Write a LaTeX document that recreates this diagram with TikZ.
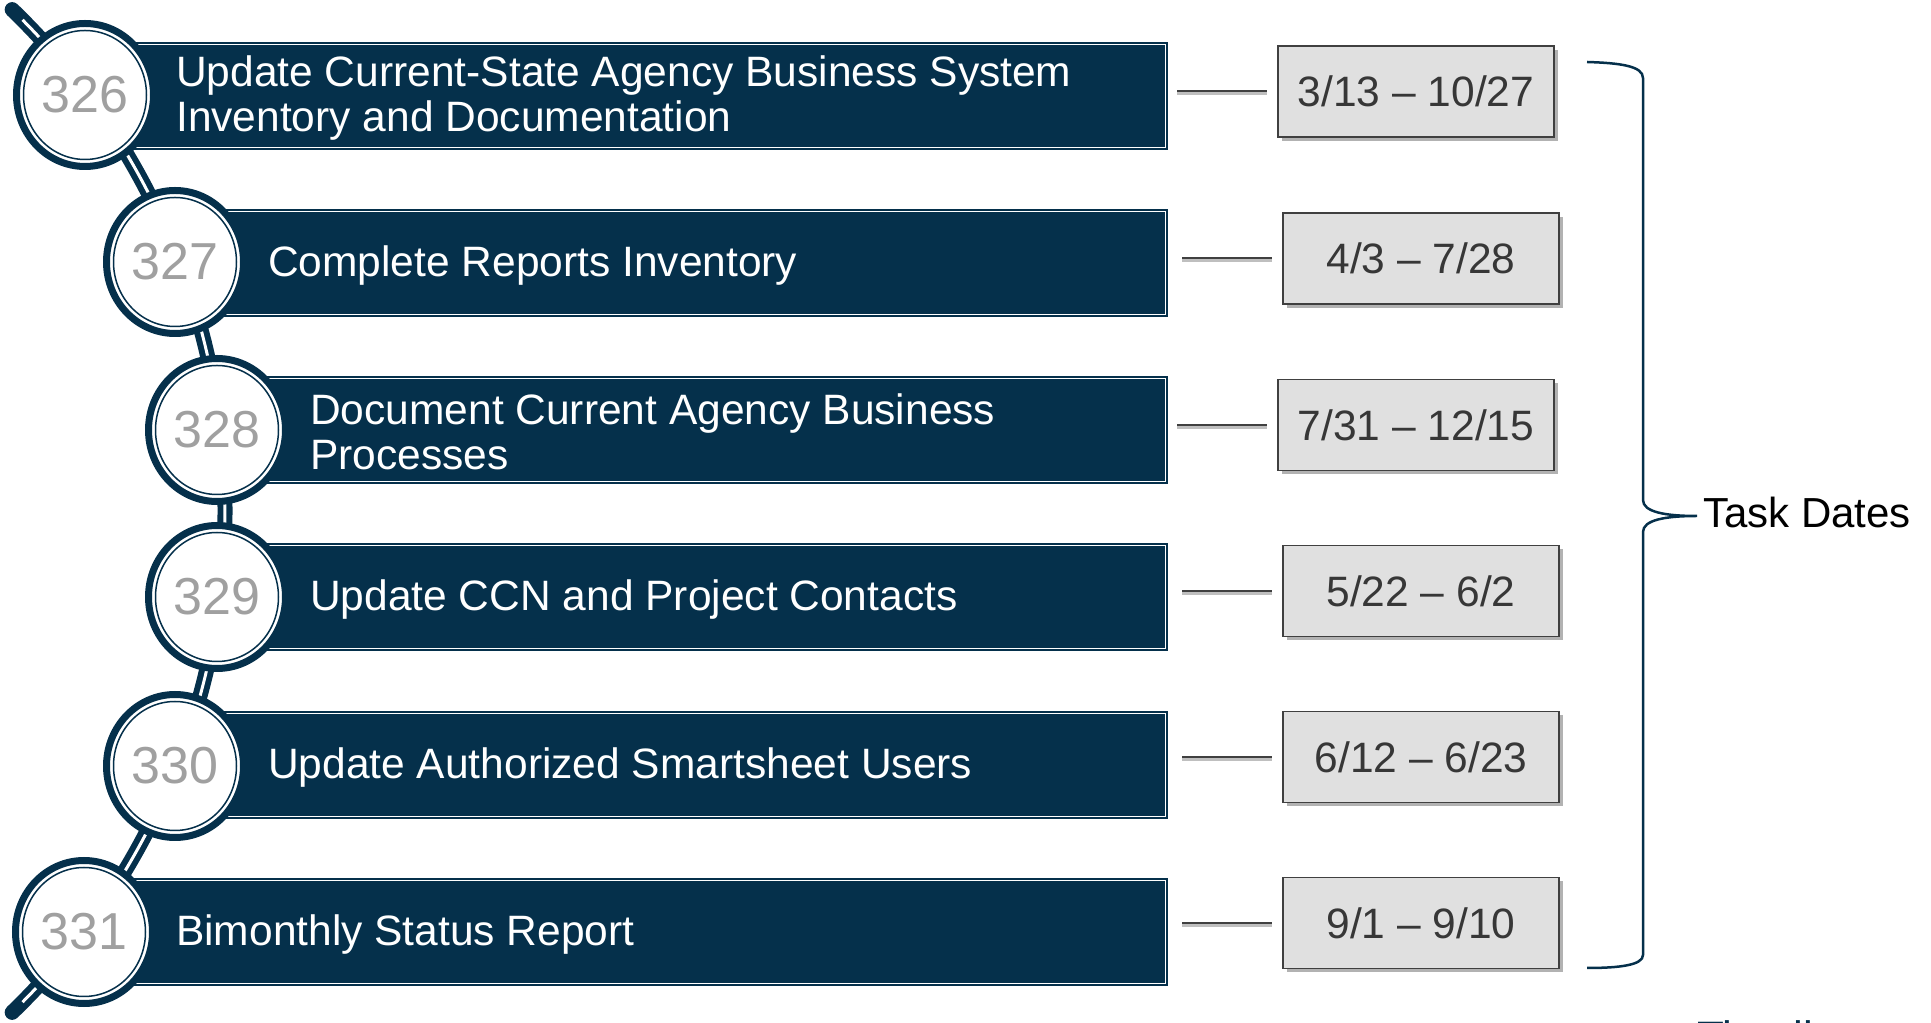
\documentclass[tikz,border=0pt]{standalone}
\usepackage{fontspec}
\setmainfont{Liberation Sans}
\usetikzlibrary{shapes.geometric,shadows}
\definecolor{navy}{RGB}{5,48,75}
\definecolor{numgray}{RGB}{160,160,160}
\definecolor{boxfill}{RGB}{224,224,224}
\definecolor{boxline}{RGB}{64,64,64}
\definecolor{datetext}{RGB}{55,55,55}
\begin{document}
\begin{tikzpicture}[x=1pt,y=1pt,
  barbox/.style={rectangle, fill=navy, minimum height=108pt, inner sep=0pt, anchor=west},
  barline/.style={white, line width=1.4pt},
  bartext/.style={anchor=west, inner sep=0pt, text=white, align=left, font=\fontsize{42.5}{45}\selectfont},
  ring/.style={ellipse, minimum width=137pt, minimum height=143pt, inner sep=0pt, draw=navy, line width=7pt, fill=white, text=numgray, font=\fontsize{52}{52}\selectfont},
  innerring/.style={navy, line width=1.5pt},
  datebox/.style={rectangle, minimum width=276pt, minimum height=91pt, inner sep=0pt, fill=boxfill, draw=boxline, line width=1.8pt, text=datetext, font=\fontsize{42.5}{46}\selectfont, drop shadow={shadow xshift=4pt, shadow yshift=-4pt, opacity=0.3, fill=black}},
  conn/.style={draw=boxline, line width=2pt},
  connshadow/.style={draw=black!25, line width=3pt},
  stickdark/.style={navy, line width=15pt, line cap=round},
  sticklight/.style={white, line width=3pt},
  bracestyle/.style={navy, line width=2.5pt},
]
\useasboundingbox (0,0) rectangle (1931,1023);

% sticks (arc through all circles)
\draw[stickdark] (-472,512) ++(-46:697) arc[start angle=-46, end angle=46, radius=697];
\draw[sticklight] (-472,512) ++(-44.8:697) arc[start angle=-44.8, end angle=44.8, radius=697];

% bars
\node[barbox, minimum width=1083pt] (b1) at (85,927) {};
\node[barbox, minimum width=993pt]  (b2) at (175,760) {};
\node[barbox, minimum width=951pt]  (b3) at (217,593) {};
\node[barbox, minimum width=951pt]  (b4) at (217,426) {};
\node[barbox, minimum width=993pt]  (b5) at (175,258) {};
\node[barbox, minimum width=1084pt] (b6) at (84,91) {};
\foreach \b in {b1,b2,b3,b4,b5,b6}{
  \draw[barline] ([shift={(0,2.8)}]\b.south west) rectangle ([shift={(-2.8,-2.8)}]\b.north east);
}

% circles
\node[ring] (c1) at (85,928) {326};
\node[ring] (c2) at (175,761) {327};
\node[ring] (c3) at (217,593) {328};
\node[ring] (c4) at (217,426) {329};
\node[ring] (c5) at (175,257) {330};
\node[ring] (c6) at (84,91) {331};
\foreach \c in {c1,c2,c3,c4,c5,c6}{
  \draw[innerring] (\c.center) ellipse [x radius=61.5, y radius=64.5];
}

% bar texts
\node[bartext] (t1) at (176,925) {Update Current-State Agency Business System\\Inventory and Documentation};
\node[bartext] (t2) at (268,757) {Complete Reports Inventory};
\node[bartext] (t3) at (310,591) {Document Current Agency Business\\Processes};
\node[bartext] (t4) at (310,423) {Update CCN and Project Contacts};
\node[bartext] (t5) at (268,255) {Update Authorized Smartsheet Users};
\node[bartext] (t6) at (176,88) {Bimonthly Status Report};

% date boxes
\node[datebox] (d1) at (1416,931.5) {3/13 – 10/27};
\node[datebox] (d2) at (1421,764.5) {4/3 – 7/28};
\node[datebox] (d3) at (1416,598) {7/31 – 12/15};
\node[datebox] (d4) at (1421,432) {5/22 – 6/2};
\node[datebox] (d5) at (1421,266) {6/12 – 6/23};
\node[datebox] (d6) at (1421,100) {9/1 – 9/10};

% connectors
\foreach \d in {d1,d2,d3,d4,d5,d6}{
  \coordinate (s\d) at ([xshift=-100pt]\d.west);
  \coordinate (e\d) at ([xshift=-10pt]\d.west);
  \draw[connshadow] ([yshift=-2.5pt]s\d) -- ([yshift=-2.5pt]e\d);
  \draw[conn] (s\d) -- (e\d);
}

% brace
\draw[bracestyle] (1587,961) .. controls (1620,960) and (1643,957) .. (1643,945)
  -- (1643,523) .. controls (1643,511) and (1665,507) .. (1697,507)
  .. controls (1665,507) and (1643,503) .. (1643,491)
  -- (1643,68) .. controls (1643,58) and (1620,55) .. (1587,55);
\node[anchor=base west, inner sep=0pt, font=\fontsize{42}{46}\selectfont] (td) at (1703,495) {Task Dates};

% partially visible caption at the bottom edge
\node[anchor=north west, inner sep=0pt, text=navy, font=\fontsize{44}{48}\selectfont] (tl) at (1697,3) {Timeline};
\end{tikzpicture}
\end{document}
